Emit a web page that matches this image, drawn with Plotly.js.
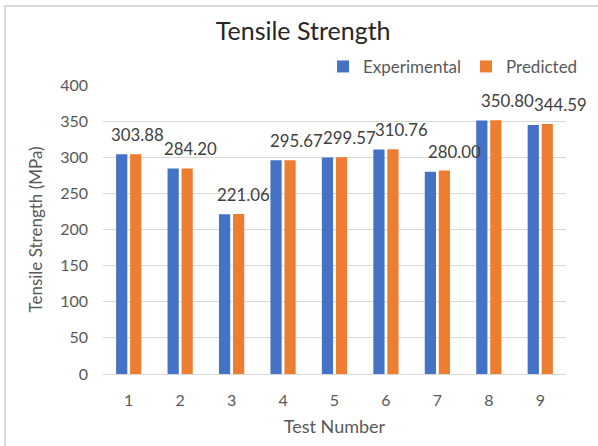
<!DOCTYPE html>
<html>
<head>
<meta charset="utf-8">
<script src="https://cdn.plot.ly/plotly-3.0.1.min.js"></script>
<style>
  html, body { margin: 0; padding: 0; background: #fff; }
  #wrap { position: relative; width: 598px; height: 446px; overflow: hidden; }
  #chart { position: absolute; left: 0; top: 0; width: 598px; height: 446px; }
  #frame { position: absolute; left: 4px; top: 5px; width: 700px; height: 600px;
           border-left: 2px solid #D9D9D9; border-top: 2px solid #D9D9D9; pointer-events: none; }
</style>
</head>
<body>
<div id="wrap">
  <div id="chart"></div>
  <div id="frame"></div>
</div>
<script>
const testNumbers = ['1', '2', '3', '4', '5', '6', '7', '8', '9'];
const experimental = [303.88, 284.20, 221.06, 295.67, 299.57, 310.76, 280.00, 350.80, 344.59];
const predicted = [304.2, 284.5, 221.3, 295.9, 299.8, 310.9, 281.4, 351.0, 345.9];
const labelTexts = ['303.88', '284.20', '221.06', '295.67', '299.57', '310.76', '280.00', '350.80', '344.59'];

const FONT = 'Lato, "Open Sans", sans-serif';
const GREY = '#595959';

const traces = [
  {
    type: 'bar', name: 'Experimental', x: testNumbers, y: experimental,
    marker: { color: '#4472C4' }, hoverinfo: 'skip'
  },
  {
    type: 'bar', name: 'Predicted', x: testNumbers, y: predicted,
    marker: { color: '#ED7D31' }, hoverinfo: 'skip'
  }
];

// category axis: annotation x given as category index
const annotations = testNumbers.map((t, i) => ({
  x: i, y: experimental[i], xref: 'x', yref: 'y',
  text: labelTexts[i], showarrow: false,
  xanchor: 'center', yanchor: 'middle',
  xshift: 9 + i * 1.4, yshift: 20,
  font: { family: FONT, size: 16.8, color: '#404040' }
}));

const layout = {
  width: 598, height: 446,
  margin: { l: 103, r: 32, t: 83, b: 72, pad: 0 },
  paper_bgcolor: 'rgba(0,0,0,0)', plot_bgcolor: 'rgba(0,0,0,0)',
  font: { family: FONT, color: GREY },
  title: {
    text: 'Tensile Strength',
    font: { family: FONT, size: 25, color: '#262626' },
    x: 0.507, xanchor: 'center', y: 0.93, yanchor: 'middle'
  },
  barmode: 'group', bargap: 0.455, bargroupgap: 0.2,
  showlegend: true,
  legend: {
    orientation: 'h', xref: 'container', yref: 'container',
    x: 0.975, xanchor: 'right', y: 0.85, yanchor: 'middle',
    font: { family: FONT, size: 17, color: GREY }, itemwidth: 30,
    traceorder: 'normal', bgcolor: 'rgba(0,0,0,0)'
  },
  xaxis: {
    type: 'category', range: [-0.5, testNumbers.length - 0.5], autorange: false,
    showline: true, linecolor: '#D9D9D9', linewidth: 1,
    ticks: '', showgrid: false, automargin: false,
    tickfont: { family: FONT, size: 16, color: GREY }, ticklabelstandoff: 12,
    title: { text: 'Test Number', font: { family: FONT, size: 18, color: GREY }, standoff: 12 }
  },
  yaxis: {
    range: [0, 400], autorange: false, dtick: 50, tick0: 0, automargin: false,
    showgrid: true, gridcolor: '#D9D9D9', gridwidth: 1,
    zeroline: false, showline: false, ticks: '',
    tickfont: { family: FONT, size: 16, color: GREY }, ticklabelstandoff: 14,
    title: { text: 'Tensile Strength (MPa)', font: { family: FONT, size: 17, color: GREY }, standoff: 13 }
  },
  annotations: annotations
};

Plotly.newPlot('chart', traces, layout, { displayModeBar: false, staticPlot: true });
</script>
</body>
</html>
